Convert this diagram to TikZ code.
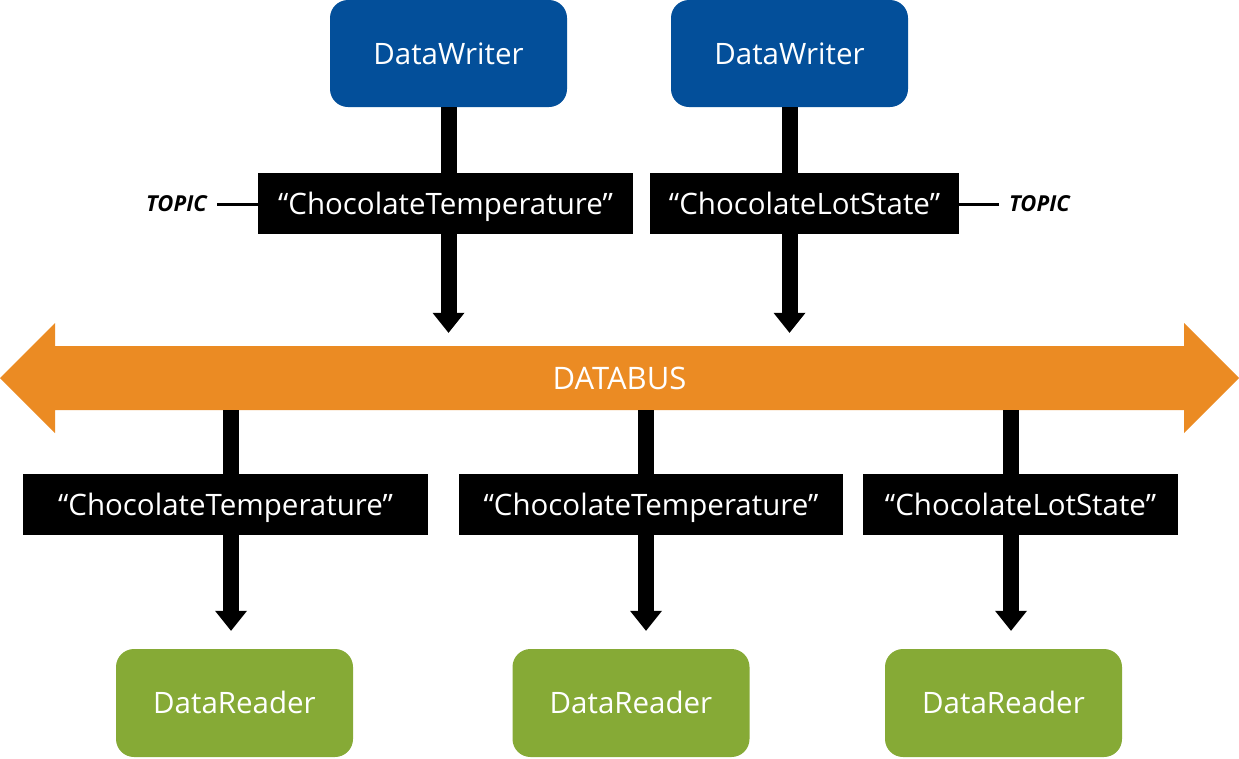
\documentclass[tikz,border=0pt]{standalone}
\usepackage{fontspec}
\setmainfont{Open Sans}
\usetikzlibrary{arrows.meta}
\definecolor{writer color}{HTML}{034F9A}
\definecolor{reader color}{HTML}{86AA36}
\definecolor{bus color}{HTML}{EB8B23}
\tikzset{
    x={1pt},
    y={-1pt},
    box/.style={
        text=white,
        inner sep=0pt,
        text height={21pt},
        text depth={0pt},
        font={\fontsize{29.5}{35}\selectfont},
    },
    writer/.style={
        box, fill=writer color,
        rounded corners={18pt},
        minimum width={237},
        minimum height={107},
    },
    reader/.style={
        box, fill=reader color,
        rounded corners={18pt},
        minimum width={237},
        minimum height={108},
    },
    topic/.style={
        box, fill=black,
        minimum height={61},
    },
    topic tag/.style={
        font={\fontsize{22}{26}\selectfont\bfseries\itshape},
        inner xsep=10pt,
        inner ysep=0pt,
    },
    tag line/.style={
        draw=black,
        line width={3pt},
    },
    pipe/.style={
        draw=black,
        line width={16pt},
    },
    flow/.style={
        pipe,
        -{Triangle[width=32pt, length=20pt, line width=0pt]},
    },
    bus/.style={
        fill=bus color,
    },
    bus label/.style={
        box,
        text height={22pt},
        font={\fontsize{31}{37}\selectfont},
        minimum width={1129},
        minimum height={64},
    },
}

\begin{document}
\begin{tikzpicture}
\useasboundingbox (0,0) rectangle (1239,758);
% databus
\path[bus] (0,378) -- (55,323) -- (55,346) -- (1184,346) -- (1184,323) -- (1239,378) -- (1184,433) -- (1184,410) -- (55,410) -- (55,433) -- cycle;
\node[bus label] (bus) at (619.5,378) {DATABUS};
% writers
\node[writer] (writer a) at (448.5,53.5) {DataWriter};
\node[writer] (writer b) at (789.5,53.5) {DataWriter};
% topics
\node[topic, minimum width={375}] (topic a) at (445.5,203.5) {“ChocolateTemperature”};
\node[topic, minimum width={309}] (topic b) at (804.5,203.5) {“ChocolateLotState”};
\node[topic, minimum width={405}] (topic c) at (225.5,504.5) {“ChocolateTemperature”};
\node[topic, minimum width={384}] (topic d) at (651,504.5) {“ChocolateTemperature”};
\node[topic, minimum width={315}] (topic e) at (1020.5,504.5) {“ChocolateLotState”};
\node[topic tag, anchor=east] (tag a) at (217,204) {TOPIC};
\node[topic tag, anchor=west] (tag b) at (999,204) {TOPIC};
% readers
\node[reader] (reader a) at (234.5,703) {DataReader};
\node[reader] (reader b) at (631,703) {DataReader};
\node[reader] (reader c) at (1003.5,703) {DataReader};
% taps
\coordinate (tap a) at (231,410);
\coordinate (tap b) at (646,410);
\coordinate (tap c) at (1011,410);
% tag lines
\draw[tag line] (tag a.east) -- (tag a.east -| topic a.west);
\draw[tag line] (tag b.west) -- (tag b.west -| topic b.east);
% writer pipes
\draw[pipe] (writer a.south) -- (writer a |- topic a.north);
\draw[flow, shorten >=13pt] (writer a |- topic a.south) -- (writer a |- bus.north);
\draw[pipe] (writer b.south) -- (writer b |- topic b.north);
\draw[flow, shorten >=13pt] (writer b |- topic b.south) -- (writer b |- bus.north);
% reader pipes
\draw[pipe] (tap a) -- (tap a |- topic c.north);
\draw[flow, shorten >=18pt] (tap a |- topic c.south) -- (tap a |- reader a.north);
\draw[pipe] (tap b) -- (tap b |- topic d.north);
\draw[flow, shorten >=18pt] (tap b |- topic d.south) -- (tap b |- reader b.north);
\draw[pipe] (tap c) -- (tap c |- topic e.north);
\draw[flow, shorten >=18pt] (tap c |- topic e.south) -- (tap c |- reader c.north);
\end{tikzpicture}
\end{document}
